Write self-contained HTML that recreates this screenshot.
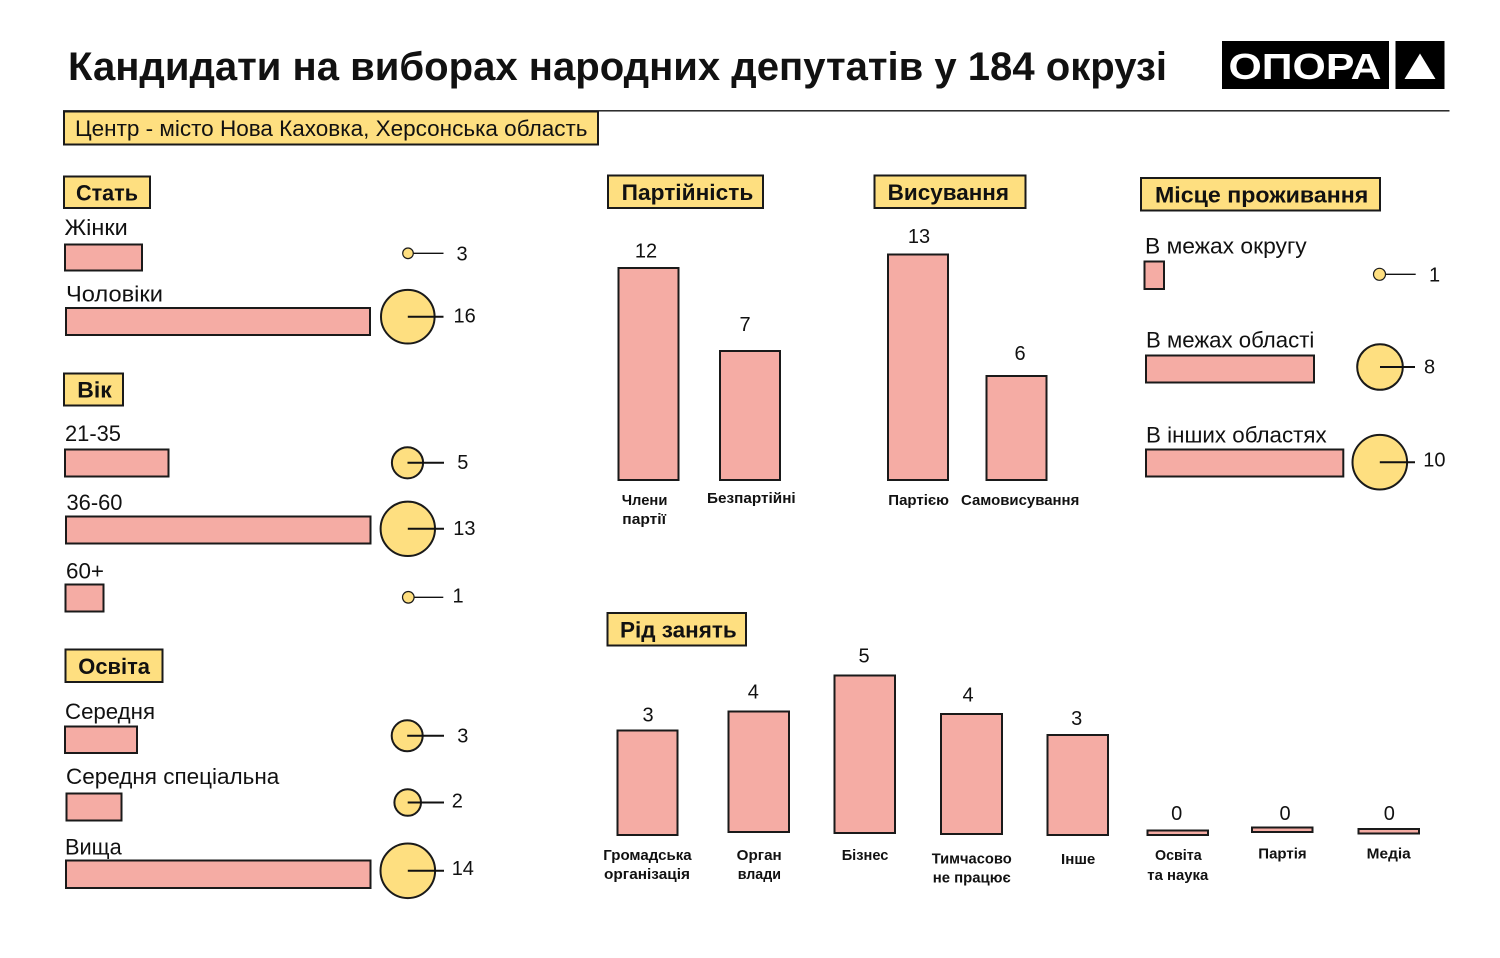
<!DOCTYPE html>
<html>
<head>
<meta charset="utf-8">
<style>
html,body{margin:0;padding:0;background:#fff;}
svg{display:block;}
text{font-family:"Liberation Sans","DejaVu Sans",sans-serif;fill:#111;}
.b{font-weight:bold;}
.bar{fill:#F5ACA4;stroke:#1a1a1a;stroke-width:2;}
.hdr{fill:#FEDF80;stroke:#1a1a1a;stroke-width:2;}
.cir{fill:#FEDF80;stroke:#1a1a1a;stroke-width:2;}
.cirs{fill:#FEDF80;stroke:#1a1a1a;stroke-width:1.2;}
.ln{stroke:#111;stroke-width:2;}
.lns{stroke:#111;stroke-width:1.4;}
.lab{font-size:22px;}
.num{font-size:20px;}
.cat{font-size:15px;font-weight:bold;}
.h{font-size:22px;font-weight:bold;}
</style>
</head>
<body>
<svg width="1500" height="958" viewBox="0 0 1500 958" xmlns="http://www.w3.org/2000/svg">
<rect x="0" y="0" width="1500" height="958" fill="#fff"/>

<!-- Title -->
<text x="68" y="80" class="b" font-size="40" textLength="1099" lengthAdjust="spacingAndGlyphs">Кандидати на виборах народних депутатів  у 184 окрузі</text>

<!-- Logo -->
<rect x="1222" y="41" width="167" height="48" fill="#000"/>
<text x="1228.5" y="79" class="b" font-size="36" style="fill:#fff" textLength="153" lengthAdjust="spacingAndGlyphs">ОПОРА</text>
<rect x="1395.5" y="41" width="49" height="48" fill="#000"/>
<polygon points="1420,53.5 1435.5,79 1404.5,79" fill="#fff"/>

<!-- Rule -->
<line x1="63" y1="110.8" x2="1449.5" y2="110.8" stroke="#111" stroke-width="1.4"/>

<!-- Subtitle -->
<rect x="64" y="111.5" width="534" height="33" class="hdr"/>
<text x="75" y="136" class="lab" textLength="512.5" lengthAdjust="spacingAndGlyphs">Центр - місто Нова Каховка, Херсонська область</text>

<!-- ===== Стать ===== -->
<rect x="64" y="176.5" width="86" height="31.5" class="hdr"/>
<text x="76" y="200.7" class="h" textLength="62" lengthAdjust="spacingAndGlyphs">Стать</text>

<text x="64.5" y="235" class="lab" textLength="63.2" lengthAdjust="spacingAndGlyphs">Жінки</text>
<rect x="65" y="244.5" width="77" height="26" class="bar"/>
<line x1="408" y1="253.3" x2="443.5" y2="253.3" class="lns"/>
<circle cx="408" cy="253.3" r="5.3" class="cirs"/>
<text x="456.5" y="260.7" class="num">3</text>

<text x="66" y="301.7" class="lab" textLength="97" lengthAdjust="spacingAndGlyphs">Чоловіки</text>
<rect x="66" y="308" width="304" height="27" class="bar"/>
<circle cx="407.8" cy="316.7" r="26.8" class="cir"/>
<line x1="407.8" y1="316.7" x2="443.5" y2="316.7" class="ln"/>
<text x="453.5" y="322.7" class="num">16</text>

<!-- ===== Вік ===== -->
<rect x="64" y="373.5" width="59" height="32" class="hdr"/>
<text x="77.3" y="397.3" class="h" textLength="34.4" lengthAdjust="spacingAndGlyphs">Вік</text>

<text x="65" y="441" class="lab" textLength="56" lengthAdjust="spacingAndGlyphs">21-35</text>
<rect x="65" y="449.5" width="103.5" height="27" class="bar"/>
<circle cx="407.5" cy="462.8" r="15.6" class="cir"/>
<line x1="407.5" y1="462.8" x2="444" y2="462.8" class="ln"/>
<text x="457.3" y="469" class="num">5</text>

<text x="66.5" y="510" class="lab" textLength="56" lengthAdjust="spacingAndGlyphs">36-60</text>
<rect x="66" y="516.5" width="304.5" height="27" class="bar"/>
<circle cx="407.8" cy="528.8" r="27.2" class="cir"/>
<line x1="407.8" y1="528.8" x2="444" y2="528.8" class="ln"/>
<text x="453.3" y="535" class="num">13</text>

<text x="66" y="578.3" class="lab" textLength="38" lengthAdjust="spacingAndGlyphs">60+</text>
<rect x="65.5" y="584.5" width="38" height="27" class="bar"/>
<line x1="408.3" y1="597.3" x2="443.3" y2="597.3" class="lns"/>
<circle cx="408.3" cy="597.3" r="5.8" class="cirs"/>
<text x="452.5" y="602.3" class="num">1</text>

<!-- ===== Освіта ===== -->
<rect x="65.5" y="649.5" width="97" height="32.5" class="hdr"/>
<text x="78.3" y="674" class="h" textLength="71.7" lengthAdjust="spacingAndGlyphs">Освіта</text>

<text x="65" y="719" class="lab" textLength="90" lengthAdjust="spacingAndGlyphs">Середня</text>
<rect x="65" y="726.5" width="72" height="26.5" class="bar"/>
<circle cx="407.2" cy="735.8" r="15.5" class="cir"/>
<line x1="407.2" y1="735.8" x2="444" y2="735.8" class="ln"/>
<text x="457.3" y="742.3" class="num">3</text>

<text x="66" y="784" class="lab" textLength="213.3" lengthAdjust="spacingAndGlyphs">Середня спеціальна</text>
<rect x="66.5" y="793.5" width="55" height="27" class="bar"/>
<circle cx="407.7" cy="802.5" r="13.3" class="cir"/>
<line x1="407.7" y1="802.5" x2="444" y2="802.5" class="ln"/>
<text x="451.7" y="807.3" class="num">2</text>

<text x="65" y="854.3" class="lab" textLength="56.7" lengthAdjust="spacingAndGlyphs">Вища</text>
<rect x="66" y="860.5" width="304.5" height="27.5" class="bar"/>
<circle cx="407.8" cy="870.8" r="27.3" class="cir"/>
<line x1="407.8" y1="870.8" x2="444" y2="870.8" class="ln"/>
<text x="451.7" y="875" class="num">14</text>

<!-- ===== Партійність ===== -->
<rect x="608" y="175.5" width="155" height="32.5" class="hdr"/>
<text x="621.7" y="200" class="h" textLength="131.6" lengthAdjust="spacingAndGlyphs">Партійність</text>

<rect x="618.5" y="268" width="60" height="212" class="bar"/>
<text x="646" y="257.3" class="num" text-anchor="middle">12</text>
<rect x="720" y="351" width="60" height="129" class="bar"/>
<text x="745" y="331" class="num" text-anchor="middle">7</text>
<text x="621.7" y="505" class="cat" textLength="45.7" lengthAdjust="spacingAndGlyphs">Члени</text>
<text x="622.3" y="524" class="cat" textLength="43.7" lengthAdjust="spacingAndGlyphs">партії</text>
<text x="707" y="503" class="cat" textLength="88.7" lengthAdjust="spacingAndGlyphs">Безпартійні</text>

<!-- ===== Висування ===== -->
<rect x="874.5" y="175.5" width="151" height="32.5" class="hdr"/>
<text x="887.7" y="200" class="h" textLength="121.3" lengthAdjust="spacingAndGlyphs">Висування</text>

<rect x="888" y="254.5" width="60" height="225.5" class="bar"/>
<text x="919" y="243" class="num" text-anchor="middle">13</text>
<rect x="986.5" y="376" width="60" height="104" class="bar"/>
<text x="1020" y="360" class="num" text-anchor="middle">6</text>
<text x="888.3" y="505" class="cat" textLength="60.7" lengthAdjust="spacingAndGlyphs">Партією</text>
<text x="961" y="505" class="cat" textLength="118.3" lengthAdjust="spacingAndGlyphs">Самовисування</text>

<!-- ===== Місце проживання ===== -->
<rect x="1141" y="178" width="239" height="32.5" class="hdr"/>
<text x="1155" y="202.7" class="h" textLength="213.3" lengthAdjust="spacingAndGlyphs">Місце проживання</text>

<text x="1145" y="253.3" class="lab" textLength="161.7" lengthAdjust="spacingAndGlyphs">В межах округу</text>
<rect x="1144.5" y="261.5" width="19.5" height="27.5" class="bar"/>
<line x1="1379.5" y1="274.3" x2="1415.7" y2="274.3" class="lns"/>
<circle cx="1379.5" cy="274.3" r="6" class="cirs"/>
<text x="1429" y="281.7" class="num">1</text>

<text x="1146" y="347.7" class="lab" textLength="168.3" lengthAdjust="spacingAndGlyphs">В межах області</text>
<rect x="1146" y="355.5" width="168" height="27" class="bar"/>
<circle cx="1380" cy="367" r="22.8" class="cir"/>
<line x1="1380" y1="367" x2="1415" y2="367" class="ln"/>
<text x="1424" y="373.3" class="num">8</text>

<text x="1146" y="442.7" class="lab" textLength="180.7" lengthAdjust="spacingAndGlyphs">В інших областях</text>
<rect x="1146" y="449.5" width="197.3" height="27" class="bar"/>
<circle cx="1379.8" cy="462.2" r="27.3" class="cir"/>
<line x1="1379.8" y1="462.2" x2="1415" y2="462.2" class="ln"/>
<text x="1423.3" y="466.7" class="num">10</text>

<!-- ===== Рід занять ===== -->
<rect x="607.5" y="613" width="138.5" height="32.5" class="hdr"/>
<text x="620" y="637.3" class="h" textLength="116.7" lengthAdjust="spacingAndGlyphs">Рід занять</text>

<rect x="617.5" y="730.5" width="60" height="104.5" class="bar"/>
<text x="648" y="721.7" class="num" text-anchor="middle">3</text>
<rect x="728.5" y="711.5" width="60.5" height="120.5" class="bar"/>
<text x="753.3" y="698.3" class="num" text-anchor="middle">4</text>
<rect x="834.5" y="675.5" width="60.5" height="157.5" class="bar"/>
<text x="864" y="662.7" class="num" text-anchor="middle">5</text>
<rect x="941" y="714" width="61" height="120" class="bar"/>
<text x="968" y="701.7" class="num" text-anchor="middle">4</text>
<rect x="1047.5" y="735" width="60.5" height="100" class="bar"/>
<text x="1076.7" y="725" class="num" text-anchor="middle">3</text>
<rect x="1147.5" y="830.5" width="60.5" height="4.5" class="bar"/>
<text x="1176.7" y="820" class="num" text-anchor="middle">0</text>
<rect x="1252" y="827.5" width="60.5" height="4.5" class="bar"/>
<text x="1285" y="820" class="num" text-anchor="middle">0</text>
<rect x="1358.5" y="829" width="60.5" height="4.5" class="bar"/>
<text x="1389.3" y="820" class="num" text-anchor="middle">0</text>

<text x="603.3" y="860" class="cat" textLength="88.3" lengthAdjust="spacingAndGlyphs">Громадська</text>
<text x="604" y="879" class="cat" textLength="86" lengthAdjust="spacingAndGlyphs">організація</text>
<text x="736.7" y="860" class="cat" textLength="45" lengthAdjust="spacingAndGlyphs">Орган</text>
<text x="737.7" y="879" class="cat" textLength="43.3" lengthAdjust="spacingAndGlyphs">влади</text>
<text x="841.7" y="860" class="cat" textLength="46.7" lengthAdjust="spacingAndGlyphs">Бізнес</text>
<text x="931.7" y="863.3" class="cat" textLength="80" lengthAdjust="spacingAndGlyphs">Тимчасово</text>
<text x="932.7" y="882.7" class="cat" textLength="78" lengthAdjust="spacingAndGlyphs">не працює</text>
<text x="1061" y="864" class="cat" textLength="34.3" lengthAdjust="spacingAndGlyphs">Інше</text>
<text x="1155" y="860" class="cat" textLength="46.7" lengthAdjust="spacingAndGlyphs">Освіта</text>
<text x="1147.3" y="880" class="cat" textLength="61" lengthAdjust="spacingAndGlyphs">та наука</text>
<text x="1258.3" y="858.3" class="cat" textLength="48.3" lengthAdjust="spacingAndGlyphs">Партія</text>
<text x="1366.7" y="858.3" class="cat" textLength="44" lengthAdjust="spacingAndGlyphs">Медіа</text>
</svg>
</body>
</html>
